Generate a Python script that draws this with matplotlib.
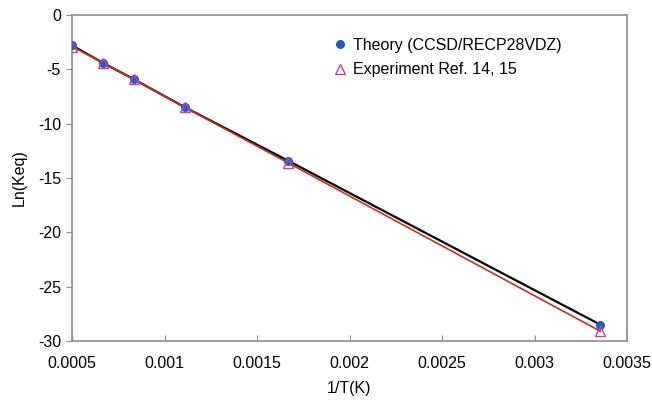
import matplotlib
matplotlib.use("Agg")
import matplotlib.pyplot as plt

plt.rcParams["font.family"] = ["Liberation Sans", "DejaVu Sans"]
plt.rcParams["axes.unicode_minus"] = False

# ── Data ─────────────────────────────────────────────────────────────────────
inv_T      = [0.0005, 0.000667, 0.000833, 0.001111, 0.001667, 0.003356]
ln_k_theo  = [-2.8, -4.4, -5.9, -8.5, -13.4, -28.5]
ln_k_exp   = [-2.9, -4.4, -5.9, -8.5, -13.6, -29.1]

x_ticks = [0.0005, 0.001, 0.0015, 0.002, 0.0025, 0.003, 0.0035]
x_tick_labels = ["0.0005", "0.001", "0.0015", "0.002", "0.0025", "0.003", "0.0035"]
y_ticks = [0, -5, -10, -15, -20, -25, -30]

C_THEO = "#1f5fbf"
C_EXP  = "#c040a8"
C_AXIS = "#8c8c8c"

fig = plt.figure(figsize=(6.52, 4.0), dpi=100, facecolor="white")
ax = fig.add_axes([72 / 652, 1 - 341 / 400, (627 - 72) / 652, (341 - 15) / 400])

ax.plot(inv_T, ln_k_theo, color="black", lw=1.6, zorder=2)
ax.plot(inv_T, ln_k_exp, color="#d42a1a", lw=1.2, zorder=3)
ax.plot(inv_T, ln_k_theo, "o", ms=5.5, color=C_THEO, ls="none", zorder=4,
        label="Theory (CCSD/RECP28VDZ)")
ax.plot(inv_T, ln_k_exp, "^", ms=7, mfc="none", mec=C_EXP, mew=1.0, ls="none",
        zorder=5, label="Experiment Ref. 14, 15")

ax.set_xlim(0.0005, 0.0035)
ax.set_ylim(-30, 0)
ax.set_xticks(x_ticks)
ax.set_xticklabels(x_tick_labels)
ax.set_yticks(y_ticks)

for s in ax.spines.values():
    s.set_color(C_AXIS)
    s.set_linewidth(1.2)
ax.tick_params(axis="x", direction="in", length=4, color=C_AXIS,
               labelsize=11.5, pad=11)
ax.tick_params(axis="y", direction="out", length=4, color=C_AXIS,
               labelsize=11.5, pad=4)

ax.set_xlabel("1/T(K)", fontsize=11.5, labelpad=7)
ax.set_ylabel("Ln(Keq)", fontsize=11.5, labelpad=8)

ax.legend(loc="upper left", bbox_to_anchor=(0.46, 0.95), frameon=False,
          fontsize=11.5, handlelength=0.8, handletextpad=0.4,
          labelspacing=0.6, borderaxespad=0)

fig.savefig("out.png", dpi=100)
